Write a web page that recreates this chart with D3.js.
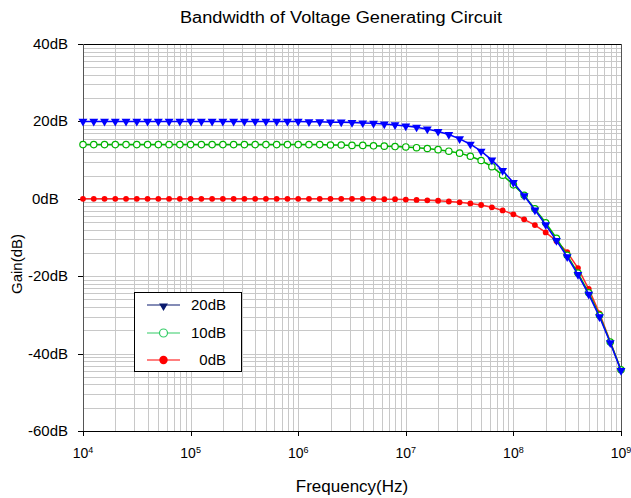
<!DOCTYPE html>
<html>
<head>
<meta charset="utf-8">
<script src="https://cdn.jsdelivr.net/npm/d3@7"></script>
<style>
  body { margin: 0; background: #fff; }
  svg { display: block; font-family: "Liberation Sans", Arial, sans-serif; }
</style>
</head>
<body>
<div id="chart"></div>
<script>
// frequency points, as log10(Hz)
var logFreq = [4.0, 4.1, 4.2, 4.3, 4.4, 4.5, 4.6, 4.7, 4.8, 4.9,
               5.0, 5.1, 5.2, 5.3, 5.4, 5.5, 5.6, 5.7, 5.8, 5.9,
               6.0, 6.1, 6.2, 6.3, 6.4, 6.5, 6.6, 6.7, 6.8, 6.9,
               7.0, 7.1, 7.2, 7.3, 7.4, 7.5, 7.6, 7.7, 7.8, 7.9,
               8.0, 8.1, 8.2, 8.3, 8.4, 8.5, 8.6, 8.7, 8.8, 8.9, 9.0];

var gain20 = [20.0, 20.0, 20.0, 20.0, 20.0, 20.0, 20.0, 20.0, 20.0, 20.0,
              20.0, 20.0, 20.0, 20.0, 20.0, 20.0, 20.0, 20.0, 20.0, 20.0,
              20.0, 19.9, 19.9, 19.8, 19.8, 19.7, 19.6, 19.5, 19.3, 19.1,
              18.8, 18.5, 18.0, 17.4, 16.6, 15.5, 14.1, 12.3, 10.0, 7.3,
              4.2, 0.8, -2.9, -6.7, -10.8, -15.0, -19.6, -24.7, -30.5, -37.2, -44.4];

var gain10 = [14.0, 14.0, 14.0, 14.0, 14.0, 14.0, 14.0, 14.0, 14.0, 14.0,
              14.0, 14.0, 14.0, 14.0, 14.0, 14.0, 14.0, 14.0, 14.0, 14.0,
              14.0, 14.0, 14.0, 13.9, 13.9, 13.8, 13.8, 13.7, 13.6, 13.5,
              13.4, 13.2, 13.0, 12.7, 12.3, 11.8, 11.0, 9.9, 8.3, 6.1,
              3.6, 0.9, -2.6, -6.2, -10.2, -14.6, -19.2, -24.3, -30.1, -37.0, -44.2];

var gain0 = [0.0, 0.0, 0.0, 0.0, 0.0, 0.0, 0.0, 0.0, 0.0, 0.0,
             0.0, 0.0, 0.0, 0.0, 0.0, 0.0, 0.0, 0.0, 0.0, 0.0,
             0.0, 0.0, 0.0, 0.0, 0.0, 0.0, 0.0, 0.0, -0.1, -0.1,
             -0.2, -0.3, -0.4, -0.5, -0.7, -0.9, -1.2, -1.6, -2.2, -3.0,
             -4.0, -5.3, -6.8, -8.7, -10.9, -13.8, -17.9, -23.3, -29.6, -36.9, -44.3];

var yTicks = [40, 20, 0, -20, -40, -60];
var xDecades = [4, 5, 6, 7, 8, 9];
var seriesNames = ["20dB", "10dB", "0dB"];

var W = 631, H = 498;
var margin = {top: 44, right: 10, bottom: 67, left: 83};

var svg = d3.select("#chart").append("svg")
  .attr("width", W)
  .attr("height", H);

var x = d3.scaleLog()
  .domain([1e4, 1e9])
  .range([margin.left, W - margin.right]);
var y = d3.scaleLinear()
  .domain([-60, 40])
  .range([H - margin.bottom, margin.top]);

var x0 = x.range()[0], x1 = x.range()[1];
var y0 = y.range()[0], y1 = y.range()[1];

// grid - vertical (log minors)
var grid = svg.append("g").attr("stroke", "#c8c8c8").attr("stroke-width", 1);
grid.selectAll("line.vg")
  .data(x.ticks())
  .enter().append("line")
    .attr("x1", function(d) { return Math.round(x(d)) + 0.5; })
    .attr("x2", function(d) { return Math.round(x(d)) + 0.5; })
    .attr("y1", y1)
    .attr("y2", y0);

// grid - horizontal, log style inside each 20dB band
var hLines = [];
yTicks.forEach(function(t) {
  if (t === -60) return;
  for (var k = 2; k <= 9; k++) hLines.push(t - 20 + 20 * Math.log10(k));
  hLines.push(t);
});
grid.selectAll("line.hg")
  .data(hLines)
  .enter().append("line")
    .attr("x1", x0)
    .attr("x2", x1)
    .attr("y1", function(d) { return Math.round(y(d)) + 0.5; })
    .attr("y2", function(d) { return Math.round(y(d)) + 0.5; });

// frame
svg.append("line").attr("x1", x0).attr("x2", x1).attr("y1", y1 + 0.5).attr("y2", y1 + 0.5).attr("stroke", "#000");
svg.append("line").attr("x1", x1 + 0.5).attr("x2", x1 + 0.5).attr("y1", y1).attr("y2", y0).attr("stroke", "#555");
svg.append("line").attr("x1", x0 + 0.5).attr("x2", x0 + 0.5).attr("y1", y1).attr("y2", y0 + 4).attr("stroke", "#555");
svg.append("line").attr("x1", x0).attr("x2", x1 + 1).attr("y1", y0 + 0.5).attr("y2", y0 + 0.5).attr("stroke", "#000");

// y ticks and labels
svg.selectAll("line.yt")
  .data(yTicks)
  .enter().append("line")
    .attr("x1", x0 - 5).attr("x2", x0)
    .attr("y1", function(d) { return Math.round(y(d)) + 0.5; })
    .attr("y2", function(d) { return Math.round(y(d)) + 0.5; })
    .attr("stroke", "#000");
svg.selectAll("text.yl")
  .data(yTicks)
  .enter().append("text")
    .attr("x", function(d) { return d === 0 ? 32 : 68; })
    .attr("y", function(d) { return y(d) + 5; })
    .attr("text-anchor", function(d) { return d === 0 ? "start" : "end"; })
    .style("font-size", "15px")
    .text(function(d) { return d + "dB"; });

// x ticks and labels
svg.selectAll("line.xt")
  .data(xDecades)
  .enter().append("line")
    .attr("x1", function(d) { return Math.round(x(Math.pow(10, d))) + 0.5; })
    .attr("x2", function(d) { return Math.round(x(Math.pow(10, d))) + 0.5; })
    .attr("y1", y0).attr("y2", y0 + 5)
    .attr("stroke", "#000");
var xl = svg.selectAll("text.xl")
  .data(xDecades)
  .enter().append("text")
    .attr("x", function(d) { return x(Math.pow(10, d)); })
    .attr("y", 458)
    .attr("text-anchor", "middle")
    .style("font-size", "14px");
xl.append("tspan").text("10");
xl.append("tspan").attr("dy", -5).style("font-size", "9px").text(function(d) { return d; });

// axis titles
svg.append("text")
  .attr("x", 341).attr("y", 23)
  .attr("text-anchor", "middle")
  .attr("textLength", 322)
  .attr("lengthAdjust", "spacingAndGlyphs")
  .style("font-size", "16px")
  .text("Bandwidth of Voltage Generating Circuit");
svg.append("text")
  .attr("x", 352).attr("y", 492)
  .attr("text-anchor", "middle")
  .style("font-size", "17px")
  .text("Frequency(Hz)");
svg.append("text")
  .attr("transform", "translate(22,264)rotate(-90)")
  .attr("text-anchor", "middle")
  .style("font-size", "15px")
  .text("Gain(dB)");

// series
function rows(g) {
  return logFreq.map(function(f, i) { return {f: Math.pow(10, f), g: g[i]}; });
}
var line = d3.line()
  .x(function(d) { return x(d.f); })
  .y(function(d) { return y(d.g); });

var tri = d3.symbol().type(d3.symbolTriangle).size(34);

// 0dB
var s0 = svg.append("g");
s0.append("path").datum(rows(gain0))
  .attr("d", line).attr("fill", "none").attr("stroke", "#ff2a2a").attr("stroke-width", 1.5);
s0.selectAll("circle").data(rows(gain0)).enter().append("circle")
  .attr("cx", function(d) { return x(d.f); })
  .attr("cy", function(d) { return y(d.g); })
  .attr("r", 2.9)
  .attr("fill", "#ff0000");

// 10dB
var s1 = svg.append("g");
s1.append("path").datum(rows(gain10))
  .attr("d", line).attr("fill", "none").attr("stroke", "#00b400").attr("stroke-width", 1.5);
s1.selectAll("circle").data(rows(gain10)).enter().append("circle")
  .attr("cx", function(d) { return x(d.f); })
  .attr("cy", function(d) { return y(d.g); })
  .attr("r", 3.2)
  .attr("fill", "#fff")
  .attr("stroke", "#00b400")
  .attr("stroke-width", 1.2);

// 20dB
var s2 = svg.append("g");
s2.append("path").datum(rows(gain20))
  .attr("d", line).attr("fill", "none").attr("stroke", "#0000ff").attr("stroke-width", 1.5);
s2.selectAll("path.m").data(rows(gain20)).enter().append("path")
  .attr("d", tri)
  .attr("transform", function(d) { return "translate(" + x(d.f) + "," + y(d.g) + ")rotate(180)"; })
  .attr("fill", "#0000ff");

// legend
var lg = svg.append("g");
lg.append("rect")
  .attr("x", 134.5).attr("y", 292.5).attr("width", 107).attr("height", 79)
  .attr("fill", "#fff").attr("stroke", "#000");
var legRows = [
  {name: seriesNames[0], color: "#0a1a6e", y: 305},
  {name: seriesNames[1], color: "#33cc66", y: 333},
  {name: seriesNames[2], color: "#ff0000", y: 360}
];
legRows.forEach(function(r, i) {
  lg.append("line").attr("x1", 147).attr("x2", 180).attr("y1", r.y).attr("y2", r.y)
    .attr("stroke", r.color).attr("stroke-width", 1.2);
  if (i === 0) {
    lg.append("path").attr("d", tri)
      .attr("transform", "translate(163.5," + (r.y + 1) + ")rotate(180)")
      .attr("fill", r.color);
  } else if (i === 1) {
    lg.append("circle").attr("cx", 163.5).attr("cy", r.y).attr("r", 4)
      .attr("fill", "#fff").attr("stroke", r.color).attr("stroke-width", 1.2);
  } else {
    lg.append("circle").attr("cx", 163.5).attr("cy", r.y).attr("r", 4.2).attr("fill", r.color);
  }
  lg.append("text").attr("x", 226).attr("y", r.y + 5)
    .attr("text-anchor", "end")
    .style("font-size", "15px")
    .text(r.name);
});
</script>
</body>
</html>
